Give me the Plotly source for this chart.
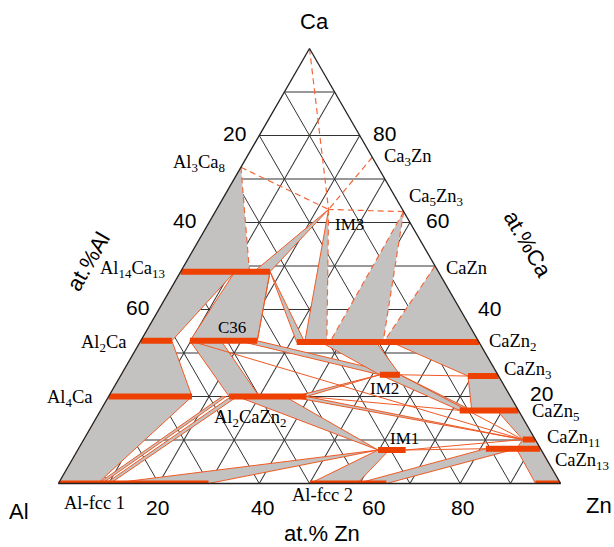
import plotly.graph_objects as go

W, H = 614, 547

# ---------------- data (compositions in at.%: Ca, Zn; Al = 100 - Ca - Zn) -------------
# phases with a homogeneity range drawn as thick bars at constant Ca
bar_names = ["Al14Ca13", "Al2Ca", "C36", "CaZn2", "Al4Ca", "Al2CaZn2", "IM2",
             "CaZn3", "CaZn5", "CaZn11", "CaZn13", "IM1", "Al-fcc 1", "Al-fcc 2", "Zn"]
bar_ca = [48.7, 32.8, 32.8, 32.5, 20.0, 20.0, 25.0, 24.7, 16.8, 10.1, 8.0, 7.7, 0.0, 0.0, 0.0]
bar_zn_from = [0.0, 0.0, 9.8, 31.2, 0.0, 24.0, 51.5, 69.2, 71.5, 87.4, 81.1, 59.8, 0.0, 50.1, 95.0]
bar_zn_to = [17.8, 6.2, 23.2, 67.5, 16.6, 39.4, 55.5, 75.3, 83.2, 89.9, 91.9, 65.3, 29.9, 65.3, 100.0]

# stoichiometric (point) phases
point_names = ["Al3Ca8", "Ca3Zn", "Ca5Zn3", "CaZn", "IM3"]
point_ca = [72.7, 75.0, 62.5, 50.0, 63.0]
point_zn = [0.0, 25.0, 37.5, 50.0, 22.3]

# two-phase fields (grey), vertices as (Ca, Zn)
field_al3ca8_al14ca13 = [(72.7, 0), (48.7, 0), (48.7, 13.7)]
field_im3_al14ca13 = [(63.0, 22.3), (48.7, 14.6), (48.7, 17.8)]
field_al14ca13_al2ca = [(48.7, 0), (48.7, 10.8), (32.8, 6.2), (32.8, 0)]
field_al14ca13_c36 = [(48.7, 10.8), (48.7, 17.8), (32.8, 23.2), (32.8, 9.8)]
field_al14ca13_cazn2 = [(48.7, 17.8), (32.5, 31.2), (32.5, 32.8)]
field_im3_cazn2 = [(63.0, 22.3), (32.5, 32.8), (32.5, 37.2)]
field_ca5zn3_cazn2 = [(62.5, 37.5), (32.5, 37.8), (32.5, 48.4)]
field_cazn_cazn2 = [(50.0, 50.0), (32.5, 48.5), (32.5, 67.5)]
field_al2ca_al4ca = [(32.8, 0), (32.8, 6.2), (20.0, 16.6), (20.0, 0)]
field_al4ca_fcc = [(20.0, 0), (20.0, 16.6), (0, 7.8), (0, 0)]
field_c36_al2cazn2 = [(32.8, 9.8), (32.8, 16.0), (20.0, 30.0), (20.0, 24.0)]
field_c36_im2 = [(32.8, 19.5), (32.8, 23.2), (25.0, 55.5), (25.0, 51.5)]
field_cazn2_im2 = [(32.5, 36.0), (32.5, 47.0), (25.0, 55.5), (25.0, 51.5)]
field_cazn2_cazn3 = [(32.5, 50.0), (32.5, 67.5), (24.7, 75.3), (24.7, 69.2)]
field_cazn3_cazn5 = [(24.7, 69.2), (24.7, 75.3), (16.8, 83.2), (16.8, 73.9)]
field_im2_cazn5 = [(25.0, 51.5), (25.0, 55.5), (16.8, 73.9), (16.8, 71.5)]
field_cazn5_cazn11 = [(16.8, 78.9), (16.8, 83.2), (10.1, 89.9), (10.1, 87.4)]
field_cazn11_cazn13 = [(10.1, 87.4), (10.1, 89.9), (8.0, 91.9), (8.0, 87.2)]
field_cazn13_zn = [(8.0, 87.2), (8.0, 91.9), (0, 100), (0, 95.0)]
field_fcc2_cazn13 = [(0, 59.5), (0, 65.3), (8.0, 87.2), (8.0, 81.1)]
field_im1_fcc2 = [(7.7, 59.8), (7.7, 62.0), (0, 59.5), (0, 50.1)]
field_fcc1_im1 = [(0, 10.3), (0, 29.9), (7.7, 59.8)]
field_al2cazn2_im1 = [(20.0, 25.6), (20.0, 35.1), (7.7, 59.8)]
field_al2cazn2_cazn11 = [(20.0, 36.0), (20.0, 39.4), (10.1, 87.4)]
field_al2cazn2_im2 = [(20.0, 37.0), (20.0, 39.4), (25.0, 51.5)]
field_fcc1_al2cazn2_a = [(0, 7.9), (0, 8.7), (20.0, 23.4), (20.0, 22.6)]
field_fcc1_al2cazn2_b = [(0, 9.4), (0, 10.3), (20.0, 25.6), (20.0, 24.4)]

solid_fields = [field_im3_al14ca13, field_al14ca13_al2ca, field_al14ca13_c36,
                field_al14ca13_cazn2, field_al2ca_al4ca, field_al4ca_fcc,
                field_c36_al2cazn2, field_c36_im2, field_cazn2_im2, field_cazn2_cazn3,
                field_cazn3_cazn5, field_im2_cazn5, field_cazn5_cazn11,
                field_cazn11_cazn13, field_cazn13_zn, field_fcc2_cazn13,
                field_im1_fcc2, field_fcc1_im1, field_al2cazn2_im1,
                field_al2cazn2_cazn11, field_al2cazn2_im2,
                field_fcc1_al2cazn2_a, field_fcc1_al2cazn2_b]
dashed_fields = [field_al3ca8_al14ca13, field_im3_cazn2, field_ca5zn3_cazn2,
                 field_cazn_cazn2]

# extra tie lines (solid) and tentative tie lines (dashed), as ((Ca, Zn), (Ca, Zn))
tie_lines = [((25.0, 55.5), (10.1, 87.4)), ((7.7, 65.3), (10.1, 87.4)),
             ((7.7, 65.3), (8.0, 81.1)), ((25.0, 55.5), (24.7, 69.2)),
             ((32.8, 9.8), (10.1, 87.4)), ((20.0, 39.4), (16.8, 71.5)),
             ((48.7, 17.8), (32.8, 23.2)), ((63.0, 22.3), (32.5, 32.8))]
dashed_lines = [((100, 0), (63.0, 22.3)), ((75.0, 25.0), (63.0, 22.3)),
                ((62.5, 37.5), (63.0, 22.3)), ((72.7, 0), (63.0, 22.3)),
                ((72.7, 0), (48.7, 13.7)), ((63.0, 22.3), (32.5, 37.2)),
                ((62.5, 37.5), (32.5, 37.8)), ((62.5, 37.5), (32.5, 48.4)),
                ((50.0, 50.0), (32.5, 48.5))]

# text labels, positions in window pixels: (text, x, y, anchor)
phase_labels = [
    ("Al<sub>3</sub>Ca<sub>8</sub>", 199, 163, "center"), ("Ca<sub>3</sub>Zn", 408, 157, "center"),
    ("Ca<sub>5</sub>Zn<sub>3</sub>", 436, 198, "center"),
    ("Al<sub>14</sub>Ca<sub>13</sub>", 167, 269, "right"), ("CaZn", 444, 268, "left"),
    ("Al<sub>2</sub>Ca", 104, 343, "center"), ("CaZn<sub>2</sub>", 487, 342, "left"),
    ("CaZn<sub>3</sub>", 502, 370, "left"), ("Al<sub>4</sub>Ca", 70, 398, "center"),
    ("CaZn<sub>5</sub>", 530, 412, "left"), ("Al<sub>2</sub>CaZn<sub>2</sub>", 250, 418, "center"),
    ("CaZn<sub>11</sub>", 545, 438, "left"), ("CaZn<sub>13</sub>", 553, 461, "left"),
    ("Al-fcc 1", 94, 503, "center"), ("Al-fcc 2", 322, 495, "center")]
small_labels = [("IM3", 349, 224, "center"), ("C36", 232, 327, "center"),
                ("IM2", 385, 388, "center"), ("IM1", 404, 438, "center")]
tick_labels = [("20", 234, 134), ("40", 184, 220), ("60", 137, 307),
               ("80", 385, 134), ("60", 437, 220), ("40", 489, 308), ("20", 541, 393),
               ("20", 157, 507), ("40", 262, 507), ("60", 373, 507), ("80", 462, 507)]
corner_labels = [("Ca", 314, 22), ("Al", 19, 511), ("Zn", 599, 505)]
axis_titles = [("at.%Al", 88, 261, -60), ("at.%Ca", 527, 244, 60), ("at.% Zn", 322, 533, 0)]

# ---------------- styles -------------
GREY = "#c4c2c1"
BAR = "#ee4000"
LINE = "#f05a25"
DASH = "#f3683a"


def tern(pts):
    ca = [p[0] for p in pts]
    zn = [p[1] for p in pts]
    al = [100 - c - z for c, z in pts]
    return dict(a=ca, b=al, c=zn)


fig = go.Figure()

for poly in solid_fields:
    fig.add_trace(go.Scatterternary(mode="lines", fill="toself", fillcolor=GREY,
                                    line=dict(color=LINE, width=1),
                                    hoverinfo="skip", showlegend=False,
                                    **tern(poly + [poly[0]])))
for poly in dashed_fields:
    fig.add_trace(go.Scatterternary(mode="lines", fill="toself", fillcolor=GREY,
                                    line=dict(color="rgba(0,0,0,0)", width=0),
                                    hoverinfo="skip", showlegend=False,
                                    **tern(poly + [poly[0]])))
for p, q in tie_lines:
    fig.add_trace(go.Scatterternary(mode="lines", line=dict(color=LINE, width=1),
                                    hoverinfo="skip", showlegend=False, **tern([p, q])))
for p, q in dashed_lines:
    fig.add_trace(go.Scatterternary(mode="lines",
                                    line=dict(color=DASH, width=1.2, dash="6px,4px"),
                                    hoverinfo="skip", showlegend=False, **tern([p, q])))
for ca, z0, z1 in zip(bar_ca, bar_zn_from, bar_zn_to):
    fig.add_trace(go.Scatterternary(mode="lines", line=dict(color=BAR, width=6),
                                    hoverinfo="skip", showlegend=False,
                                    **tern([(ca, z0), (ca, z1)])))

axis_style = dict(dtick=10, showgrid=True, gridcolor="#333333", gridwidth=1,
                  linecolor="#222222", linewidth=1.3, showticklabels=False,
                  ticks="", title=dict(text=""), layer="above traces")


def ann(txt, x, y, family, size, anchor="center", angle=0):
    return dict(text=txt, x=x / W, y=1 - y / H, xref="paper", yref="paper",
                showarrow=False, xanchor=anchor, yanchor="middle", textangle=angle,
                font=dict(family=family, size=size, color="black"))


annotations = []
for txt, x, y, anc in phase_labels:
    annotations.append(ann(txt, x, y, "Liberation Serif", 18.5, anc))
for txt, x, y, anc in small_labels:
    annotations.append(ann(txt, x, y, "Liberation Serif", 17, anc))
for txt, x, y in tick_labels:
    annotations.append(ann(txt, x, y, "Liberation Sans", 21))
for txt, x, y in corner_labels:
    annotations.append(ann(txt, x, y, "Liberation Sans", 22))
for txt, x, y, ang in axis_titles:
    annotations.append(ann(txt, x, y, "Liberation Sans", 22, "center", ang))

fig.update_layout(
    width=W, height=H, margin=dict(l=0, r=0, t=0, b=0),
    paper_bgcolor="white", plot_bgcolor="white",
    ternary=dict(sum=100, bgcolor="white",
                 domain=dict(x=[58 / W, 561 / W], y=[(H - 483.5) / H, (H - 48.5) / H]),
                 aaxis=axis_style, baxis=axis_style, caxis=axis_style),
    annotations=annotations,
)

# remove the page's default body margin so the 614x547 figure fills the window exactly
fig.write_html("out.html",
               config={"displayModeBar": False},
               post_script="document.body.style.margin='0';"
                           "document.body.style.overflow='hidden';")
